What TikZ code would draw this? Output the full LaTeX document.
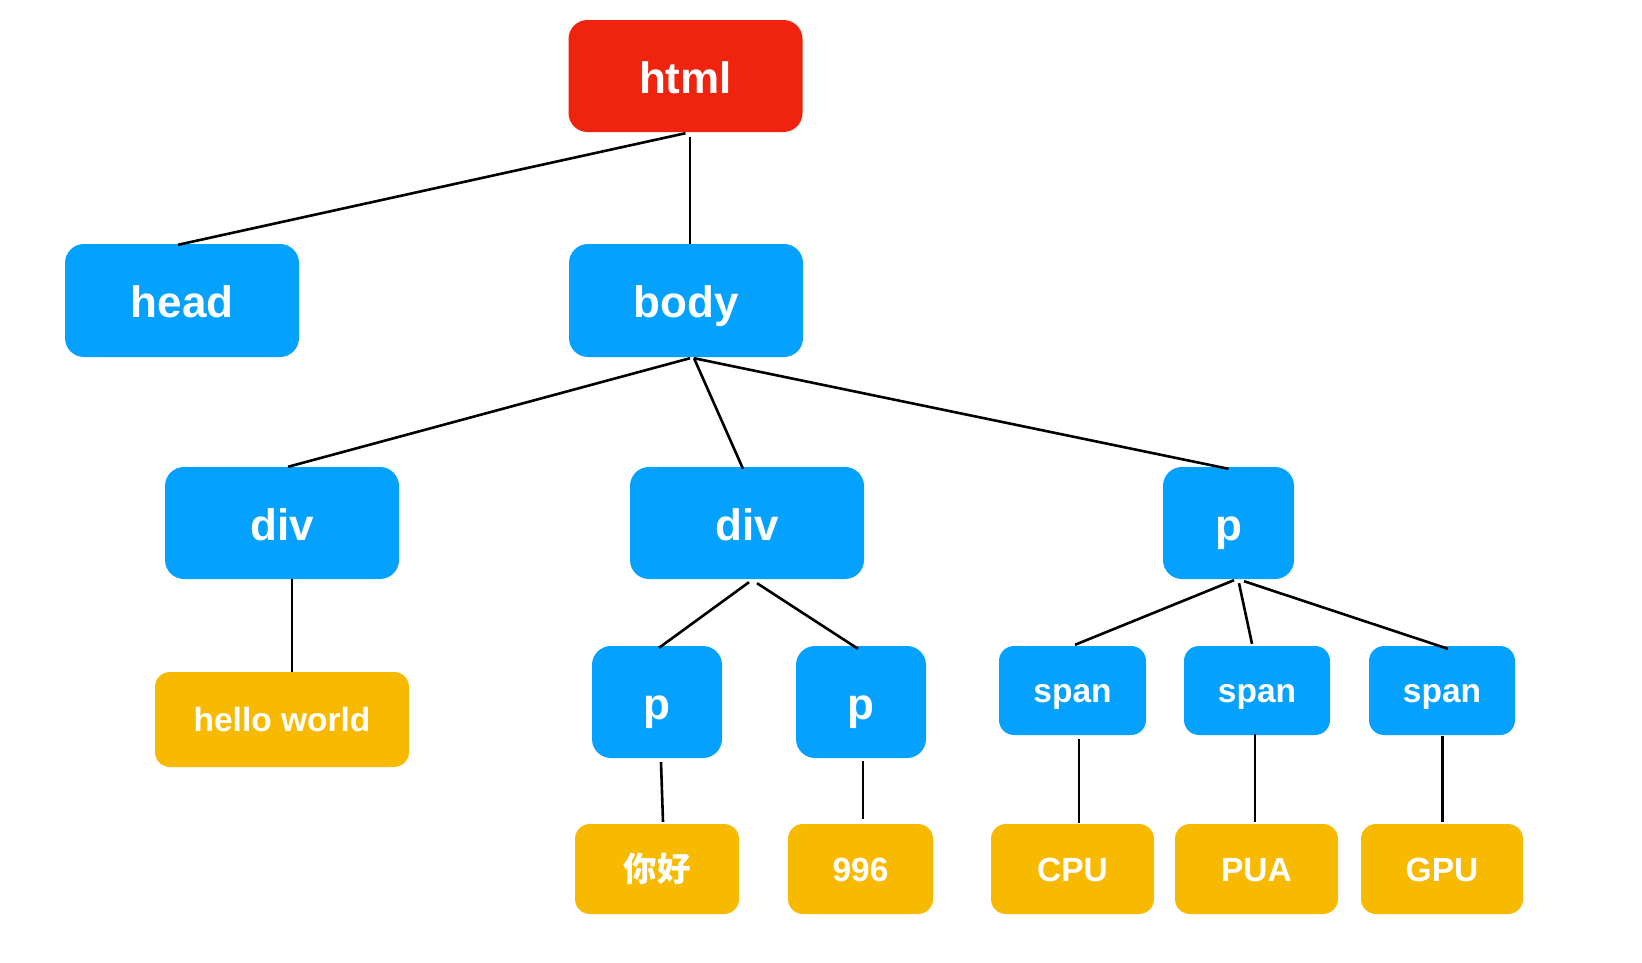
\documentclass[tikz,border=0pt]{standalone}
\usepackage{fontspec}
\setmainfont{Liberation Sans}
\newfontfamily\cjk{Noto Sans CJK SC}
\definecolor{cred}{RGB}{240,35,14}
\definecolor{cblue}{RGB}{4,162,254}
\definecolor{cyel}{RGB}{248,186,0}
\begin{document}
\begin{tikzpicture}[x=1pt,y=-1pt,
  box/.style={inner sep=0pt, text=white},
  bigtxt/.style={font=\bfseries\fontsize{44}{50}\selectfont, text height=34pt, text depth=0pt},
  smalltxt/.style={font=\bfseries\fontsize{33.5}{40}\selectfont, text height=24.5pt, text depth=0pt},
  big/.style={box, bigtxt, rounded corners=19pt, minimum width=234pt, minimum height=112pt},
  sq/.style={box, bigtxt, rounded corners=19pt, minimum width=130pt, minimum height=112pt},
  spanbox/.style={box, smalltxt, fill=cblue, rounded corners=15pt, minimum width=146pt, minimum height=89pt},
  leaf/.style={box, smalltxt, fill=cyel, rounded corners=15pt, minimum height=90pt},
  link/.style={line width=2.6pt, black}
]
\useasboundingbox (0,0) rectangle (1642,962);
\fill[white] (0,0) rectangle (1642,962);

% level 1
\node[big, fill=cred] (html) at (685.5,76) {html};
% level 2
\node[big, fill=cblue, minimum height=113pt] (head) at (182,300.5) {head};
\node[big, fill=cblue, minimum height=113pt] (body) at (686,300.5) {body};
% level 3
\node[big, fill=cblue] (div1) at (282,523) {div};
\node[big, fill=cblue] (div2) at (747,523) {div};
\node[sq, fill=cblue, minimum width=131pt] (p0) at (1228.5,523) {p};
% level 4
\node[leaf, minimum width=254pt, minimum height=95pt] (hello) at (282,719.5) {hello world};
\node[sq, fill=cblue] (p1) at (657,702) {p};
\node[sq, fill=cblue] (p2) at (861,702) {p};
\node[spanbox, minimum width=147pt] (span1) at (1072.5,690.5) {span};
\node[spanbox] (span2) at (1257,690.5) {span};
\node[spanbox] (span3) at (1442,690.5) {span};
% level 5
\node[leaf, minimum width=164pt] (nihao) at (657,869) {\cjk\bfseries 你好};
\node[leaf, minimum width=145pt] (n996) at (860.5,869) {996};
\node[leaf, minimum width=163pt] (cpu) at (1072.5,869) {CPU};
\node[leaf, minimum width=163pt] (pua) at (1256.5,869) {PUA};
\node[leaf, minimum width=162pt] (gpu) at (1442,869) {GPU};

% connectors
\draw[link] ([yshift=-1pt]html.south) -- ([xshift=-4pt,yshift=-1pt]head.north);
\draw[link] ([xshift=4.5pt,yshift=-5pt]html.south) -- ([xshift=4pt]body.north);
\draw[link] ([xshift=4pt,yshift=-1pt]body.south) -- ([xshift=6pt]div1.north);
\draw[link] ([xshift=8pt,yshift=-1pt]body.south) -- ([xshift=-4pt,yshift=-2pt]div2.north);
\draw[link] ([xshift=8pt,yshift=-1pt]body.south) -- ([yshift=-2pt]p0.north);
\draw[link] ([xshift=10pt]div1.south) -- ([xshift=10pt]hello.north);
\draw[link] ([xshift=2pt,yshift=-3pt]div2.south) -- ([xshift=2pt,yshift=-2pt]p1.north);
\draw[link] ([xshift=10pt,yshift=-4pt]div2.south) -- ([xshift=-3pt,yshift=-3pt]p2.north);
\draw[link] ([xshift=4pt,yshift=-4pt]p1.south) -- ([xshift=6pt,yshift=2pt]nihao.north);
\draw[link] ([xshift=2pt,yshift=-3pt]p2.south) -- ([xshift=2.5pt,yshift=5pt]n996.north);
\draw[link] ([xshift=5.5pt,yshift=-1pt]p0.south) -- ([xshift=2.5pt,yshift=1pt]span1.north);
\draw[link] ([xshift=10.5pt,yshift=-4pt]p0.south) -- ([xshift=-5pt,yshift=2pt]span2.north);
\draw[link] ([xshift=15.5pt,yshift=-2pt]p0.south) -- ([xshift=6pt,yshift=-3pt]span3.north);
\draw[link] ([xshift=6.5pt,yshift=-4pt]span1.south) -- ([xshift=6.5pt,yshift=1pt]cpu.north);
\draw[link] ([xshift=-2pt,yshift=1pt]span2.south) -- ([xshift=-1.5pt,yshift=2pt]pua.north);
\draw[link] ([xshift=0.5pt,yshift=-1pt]span3.south) -- ([xshift=0.5pt,yshift=2pt]gpu.north);
\end{tikzpicture}
\end{document}
